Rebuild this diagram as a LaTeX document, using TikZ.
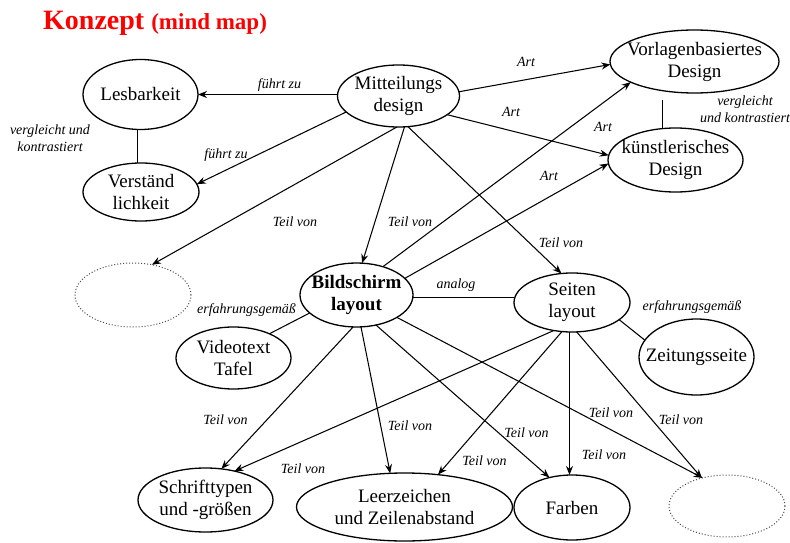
\documentclass[tikz,border=0pt]{standalone}
\usepackage{fontspec}
\setmainfont{Liberation Serif}
\usetikzlibrary{shapes.geometric,arrows.meta}
% zero-width line so the ellipse size comes only from the minimum sizes
\newcommand\zw[1]{\makebox[0pt]{#1}}
\begin{document}
\begin{tikzpicture}[x=1pt,y=-1pt,
  concept/.style={ellipse,draw,line width=1.3pt,inner sep=0pt,outer sep=0pt,
    align=center,font=\fontsize{19}{22}\selectfont},
  blank/.style={ellipse,draw=black!70,dotted,line width=1pt,inner sep=0pt,outer sep=0pt},
  rel/.style={line width=1.05pt},
  arr/.style={rel,-{Stealth[length=9pt,width=7pt,inset=3pt]}},
  lbl/.style={font=\fontsize{14}{17}\selectfont\itshape,align=center,inner sep=0pt},
]
\useasboundingbox (0,0) rectangle (790,543);

% title
\node[anchor=base west,text=red,font=\bfseries,inner sep=0pt] (title) at (43,30)
  {\fontsize{28}{30}\selectfont Konzept \fontsize{23}{25}\selectfont(mind map)};

% concepts
\node[concept,minimum width=115pt,minimum height=70pt] (les) at (140.5,94.5) {\zw{Lesbarkeit}};
\node[concept,minimum width=116pt,minimum height=58pt] (ver) at (141,192) {\zw{Verständ}\\\zw{lichkeit}};
\node[concept,minimum width=122pt,minimum height=62pt] (mit) at (398.5,96) {\zw{Mitteilungs}\\\zw{design}};
\node[concept,minimum width=169pt,minimum height=63pt] (vor) at (694.5,61.5) {\zw{Vorlagenbasiertes}\\\zw{Design}};
\node[concept,minimum width=135pt,minimum height=64pt] (kun) at (675.5,160) {\zw{künstlerisches}\\\zw{Design}};
\node[blank,minimum width=116pt,minimum height=64pt] (d1) at (133,295) {};
\node[concept,minimum width=113pt,minimum height=64pt,font=\fontsize{19}{22}\selectfont\bfseries] (bil) at (356.5,295) {\zw{Bildschirm}\\\zw{layout}};
\node[concept,minimum width=116pt,minimum height=59pt] (sei) at (572,302.5) {\zw{Seiten}\\\zw{layout}};
\node[concept,minimum width=115pt,minimum height=76pt] (zei) at (696.5,357) {\zw{Zeitungsseite}};
\node[concept,minimum width=115pt,minimum height=62pt] (vid) at (233.5,358) {\zw{Videotext}\\\zw{Tafel}};
\node[concept,minimum width=135pt,minimum height=64pt] (sch) at (205.5,500) {\zw{Schrifttypen}\\\zw{und -größen}};
\node[concept,minimum width=216pt,minimum height=68pt] (lee) at (404.5,507) {\zw{Leerzeichen}\\\zw{und Zeilenabstand}};
\node[concept,minimum width=116pt,minimum height=65pt] (far) at (572,507.5) {\zw{Farben}};
\node[blank,minimum width=116pt,minimum height=62pt] (d2) at (727,506) {};

% relations
\draw[arr] (mit.west |- les.east) -- (les.east);
\draw[arr] (mit.197) -- (ver.8);
\draw[rel] ([xshift=-3pt]les.south) -- ([xshift=-3pt]les.south |- ver.north);
\draw[arr] (mit.4) -- (vor.182);
\draw[arr] (mit.339) -- (kun.176);
\draw[rel] ([xshift=-32pt,yshift=-7pt]vor.south) -- ([xshift=-13pt]kun.north);
\draw[arr] (mit.267) -- (d1.58);
\draw[arr] (mit.281) -- (bil.80);
\draw[arr] (mit.287) -- (sei.110);
\draw[arr] (bil.47) -- (vor.198);
\draw[arr] (bil.19) -- (kun.183);
\draw[rel] ([yshift=-2.5pt]bil.east) -- ([yshift=-2.5pt]bil.east -| sei.west);
\draw[rel] (bil.201) -- (vid.34);
\draw[rel] (sei.340) -- (zei.162);
\draw[arr] (bil.264) -- (sch.63);
\draw[arr] (bil.278) -- (lee.113);
\draw[arr] (bil.303) -- (far.127);
\draw[arr] (bil.331) -- (d2.131);
\draw[arr] (sei.237) -- (sch.45);
\draw[arr] (sei.251) -- (lee.44);
\draw[arr] ([xshift=-2.5pt]sei.south) -- ([xshift=-2.5pt]far.north);
\draw[arr] (sei.279) -- (d2.132);

% relation labels
\node[lbl] (l1) at (279.5,85) {führt zu};
\node[lbl] (l2) at (226,155) {führt zu};
\node[lbl] (l3) at (50,138) {vergleicht und\\kontrastiert};
\node[lbl] (l4) at (526,62) {Art};
\node[lbl] (l5) at (511,112) {Art};
\node[lbl] (l6) at (603,127) {Art};
\node[lbl] (l7) at (549,176) {Art};
\node[lbl] (l8) at (745,109) {vergleicht\\und kontrastiert};
\node[lbl] (l9) at (295,222) {Teil von};
\node[lbl] (l10) at (410,222) {Teil von};
\node[lbl] (l11) at (561,243) {Teil von};
\node[lbl] (l12) at (456,285) {analog};
\node[lbl] (l13) at (246.5,310) {erfahrungsgemäß};
\node[lbl] (l14) at (692,307) {erfahrungsgemäß};
\node[lbl] (l15) at (225.5,420) {Teil von};
\node[lbl] (l16) at (303,469) {Teil von};
\node[lbl] (l17) at (410,426) {Teil von};
\node[lbl] (l18) at (484.5,461) {Teil von};
\node[lbl] (l19) at (526.5,433) {Teil von};
\node[lbl] (l20) at (604,455) {Teil von};
\node[lbl] (l21) at (611,413) {Teil von};
\node[lbl] (l22) at (681,420) {Teil von};
\end{tikzpicture}
\end{document}
